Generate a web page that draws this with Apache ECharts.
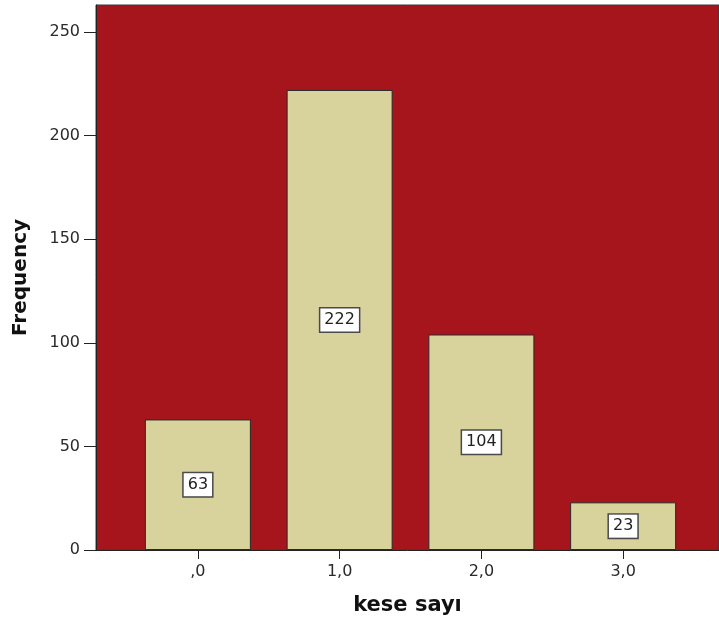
<!DOCTYPE html>
<html>
<head>
<meta charset="utf-8">
<script src="https://cdn.jsdelivr.net/npm/echarts@6/dist/echarts.min.js"></script>
<style>html,body{margin:0;padding:0;background:#fff}#chart{width:719px;height:625px}</style>
</head>
<body>
<div id="chart"></div>
<script>
// Frequencies of "kese sayı"
const categories = [',0', '1,0', '2,0', '3,0'];
const frequencies = [63, 222, 104, 23];
const yTicks = [0, 50, 100, 150, 200, 250];

const yMax = 263;
const FONT = '"DejaVu Sans", Verdana, sans-serif';
const chart = echarts.init(document.getElementById('chart'), null, { renderer: 'canvas' });

chart.setOption({
  animation: false,
  backgroundColor: '#ffffff',
  grid: [
    // frame with the red plot background
    { left: 96, right: 0, top: 5, bottom: 75, show: true, backgroundColor: '#a5151b', borderColor: '#3a3a3a', borderWidth: 1 },
    // inner grid holding the bars
    { left: 127, right: 25, top: 5, bottom: 75 }
  ],
  xAxis: [
    { gridIndex: 0, type: 'value', min: 0, max: 1,
      axisLine: { show: true, lineStyle: { color: '#222', width: 1 } },
      axisTick: { show: false }, axisLabel: { show: false }, splitLine: { show: false },
      name: 'kese sayı', nameLocation: 'middle', nameGap: 56,
      nameTextStyle: { fontFamily: FONT, fontWeight: 'bold', fontSize: 21, color: '#111', verticalAlign: 'middle' } },
    { gridIndex: 1, type: 'category', data: categories,
      axisLine: { show: false },
      axisTick: { show: true, alignWithLabel: true, length: 9, lineStyle: { color: '#222' } },
      axisLabel: { fontFamily: FONT, fontSize: 16, color: '#2a2a2a', margin: 14 } }
  ],
  yAxis: [
    { gridIndex: 0, type: 'value', min: 0, max: yMax,
      axisLine: { show: true, lineStyle: { color: '#222' } },
      axisTick: { show: true, length: 12, lineStyle: { color: '#222' }, customValues: yTicks },
      axisLabel: { fontFamily: FONT, fontSize: 16, color: '#2a2a2a', margin: 16, customValues: yTicks },
      splitLine: { show: false },
      name: 'Frequency', nameLocation: 'middle', nameGap: 75,
      nameTextStyle: { fontFamily: FONT, fontWeight: 'bold', fontSize: 20, color: '#111', verticalAlign: 'middle' } },
    { gridIndex: 1, type: 'value', min: 0, max: yMax, show: false }
  ],
  series: [{
    type: 'bar',
    xAxisIndex: 1, yAxisIndex: 1,
    data: frequencies,
    barWidth: 106,
    itemStyle: { color: '#d8d29c', borderColor: '#2a2a2a', borderWidth: 1 },
    label: {
      show: true, position: 'inside',
      fontFamily: FONT, fontSize: 16, color: '#222',
      backgroundColor: '#ffffff', borderColor: '#4a4a4a', borderWidth: 1.5,
      padding: [4, 4, 3, 4]
    }
  }]
});
</script>
</body>
</html>
